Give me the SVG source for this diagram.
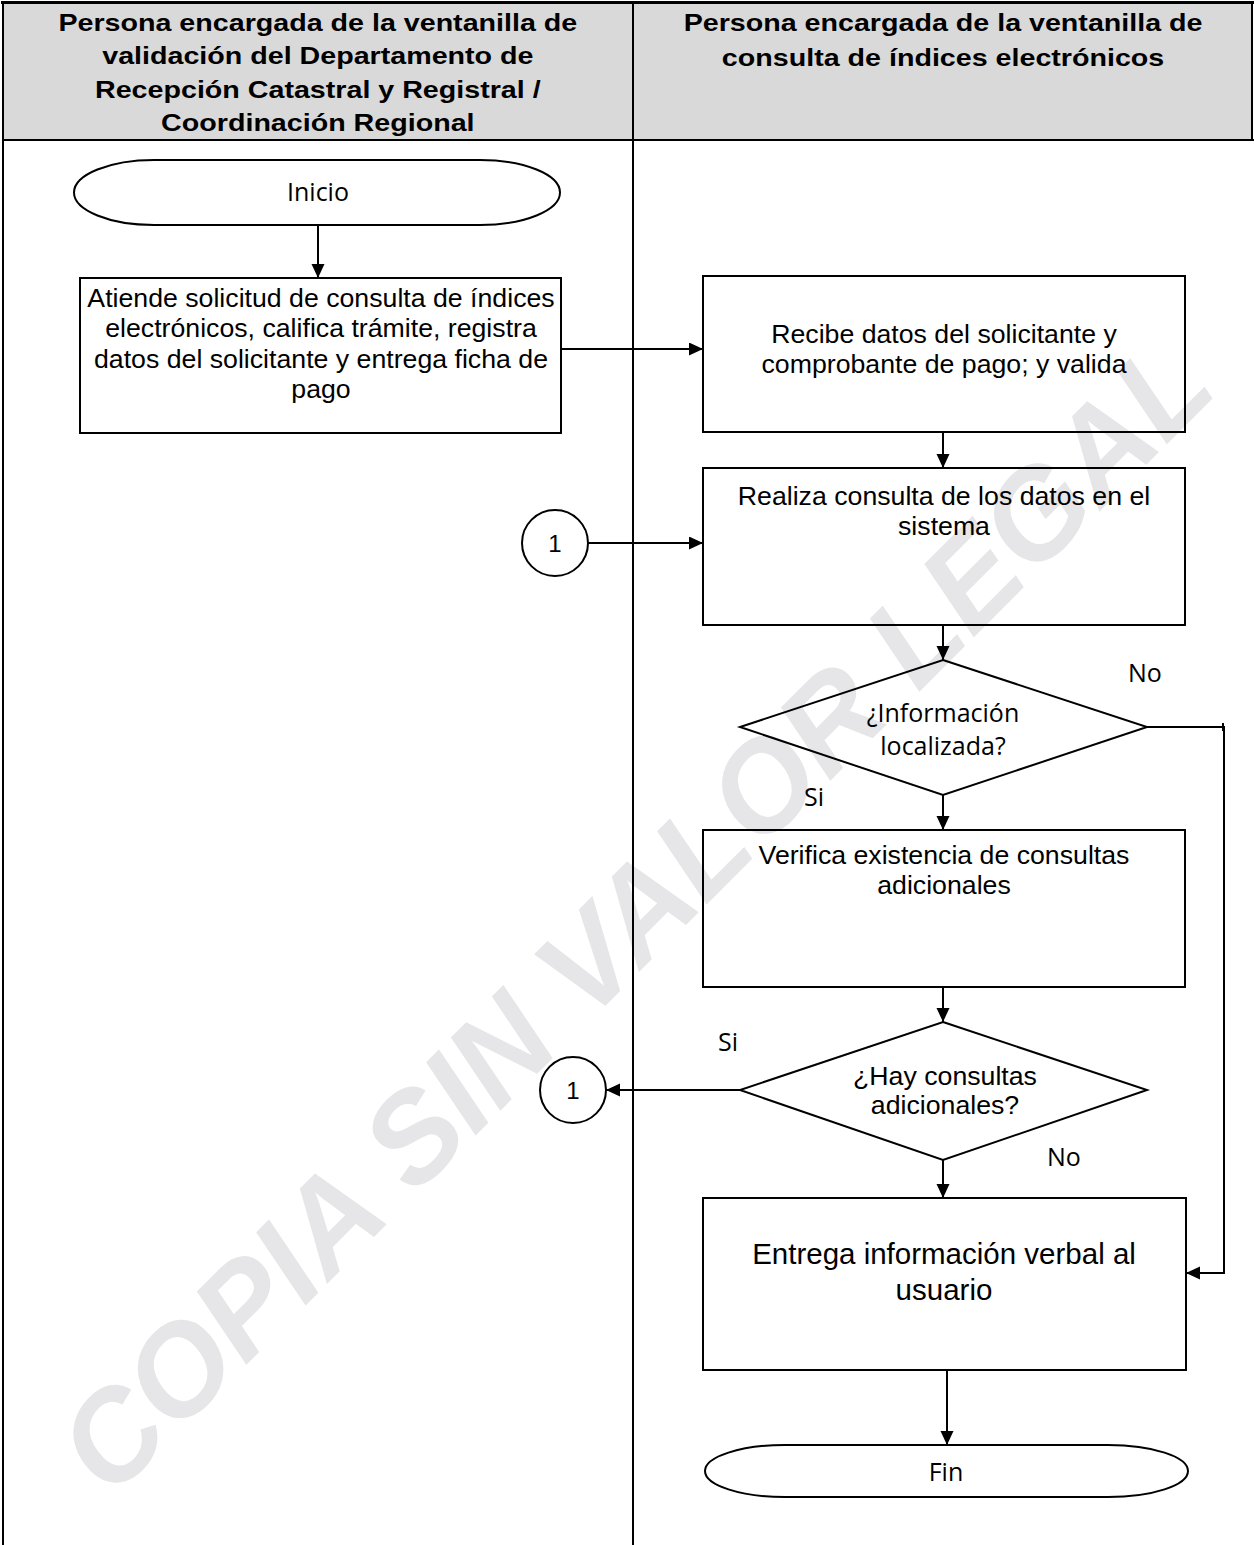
<svg xmlns="http://www.w3.org/2000/svg" width="1254" height="1545" viewBox="0 0 1254 1545">
  <style>
    .lane { fill: none; stroke: #000; stroke-width: 2; }
    .shape { fill: none; stroke: #000; stroke-width: 2; }
    .conn { fill: none; stroke: #000; stroke-width: 2; }
    .hdr { font-family: "Liberation Sans", Arial, sans-serif; font-weight: bold; font-size: 24.7px; text-anchor: middle; fill: #000; }
    .txt { font-family: "Liberation Sans", Arial, sans-serif; font-size: 26.7px; text-anchor: middle; fill: #000; }
    .big { font-size: 29.5px; }
    .cal { font-family: "Open Sans", "Noto Sans", sans-serif; font-size: 25px; text-anchor: middle; fill: #000; }
    .lbl { font-family: "Open Sans", "Noto Sans", sans-serif; font-size: 25px; fill: #000; }
    .wm { font-family: "Liberation Sans", Arial, sans-serif; font-weight: bold; font-style: italic; font-size: 126px; fill: #e6e6e8; }
  </style>
  <defs>
    <marker id="arrow" markerUnits="userSpaceOnUse" markerWidth="15" markerHeight="14" refX="14" refY="6.5" orient="auto">
      <path d="M0,0 L14,6.5 L0,13 Z" fill="#000"/>
    </marker>
  </defs>

  <rect width="1254" height="1545" fill="#fff"/>

  <!-- diagonal watermark behind everything -->
  <g id="watermark" transform="translate(111 1500) rotate(-45)">
    <text class="wm" x="0" y="0">COPIA SIN VALOR LEGAL</text>
  </g>

  <!-- swimlane frame and headers -->
  <g id="lanes">
    <rect x="2" y="2" width="1250" height="138" fill="#d9d9d9" stroke="none"/>
    <line class="lane" x1="1" y1="2.5" x2="1254" y2="2.5" style="stroke-width:3"/>
    <line class="lane" x1="2" y1="140" x2="1254" y2="140"/>
    <line class="lane" x1="3" y1="2" x2="3" y2="1545"/>
    <line class="lane" x1="633" y1="2" x2="633" y2="1545"/>
    <line class="lane" x1="1252" y1="2" x2="1252" y2="140"/>
    <g transform="scale(1.16 1)">
      <text class="hdr" x="274" y="31">Persona encargada de la ventanilla de</text>
      <text class="hdr" x="274" y="64.5">validación del Departamento de</text>
      <text class="hdr" x="274" y="98">Recepción Catastral y Registral /</text>
      <text class="hdr" x="274" y="131.5">Coordinación Regional</text>
      <text class="hdr" x="813" y="31">Persona encargada de la ventanilla de</text>
      <text class="hdr" x="813" y="66">consulta de índices electrónicos</text>
    </g>
  </g>

  <!-- connectors -->
  <g id="connectors">
    <line class="conn" x1="318" y1="225" x2="318" y2="278" marker-end="url(#arrow)"/>
    <line class="conn" x1="562" y1="349" x2="703" y2="349" marker-end="url(#arrow)"/>
    <line class="conn" x1="943" y1="432" x2="943" y2="468" marker-end="url(#arrow)"/>
    <line class="conn" x1="588" y1="543" x2="703" y2="543" marker-end="url(#arrow)"/>
    <line class="conn" x1="943" y1="625" x2="943" y2="660" marker-end="url(#arrow)"/>
    <line class="conn" x1="943" y1="795" x2="943" y2="830" marker-end="url(#arrow)"/>
    <polyline class="conn" points="1147,727 1224,727 1224,1273 1186,1273" marker-end="url(#arrow)"/>
    <line class="conn" x1="1223" y1="723" x2="1223" y2="731"/>
    <line class="conn" x1="943" y1="987" x2="943" y2="1022" marker-end="url(#arrow)"/>
    <line class="conn" x1="740" y1="1090" x2="606" y2="1090" marker-end="url(#arrow)"/>
    <line class="conn" x1="943" y1="1160" x2="943" y2="1198" marker-end="url(#arrow)"/>
    <line class="conn" x1="947" y1="1370" x2="947" y2="1445" marker-end="url(#arrow)"/>
    <text class="lbl" x="1128" y="682">No</text>
    <text class="lbl" x="804" y="806">Si</text>
    <text class="lbl" x="718" y="1051">Si</text>
    <text class="lbl" x="1047" y="1166">No</text>
  </g>

  <g id="inicio">
    <rect class="shape" x="74" y="160" width="486" height="65" rx="80" ry="32.5"/>
    <text class="cal" x="318" y="201">Inicio</text>
  </g>

  <g id="atiende">
    <rect class="shape" x="80" y="278" width="481" height="155"/>
    <text class="txt" x="321" y="307">Atiende solicitud de consulta de índices</text>
    <text class="txt" x="321" y="337">electrónicos, califica trámite, registra</text>
    <text class="txt" x="321" y="368">datos del solicitante y entrega ficha de</text>
    <text class="txt" x="321" y="398">pago</text>
  </g>

  <g id="recibe">
    <rect class="shape" x="703" y="276" width="482" height="156"/>
    <text class="txt" x="944" y="343">Recibe datos del solicitante y</text>
    <text class="txt" x="944" y="373">comprobante de pago; y valida</text>
  </g>

  <g id="realiza">
    <rect class="shape" x="703" y="468" width="482" height="157"/>
    <text class="txt" x="944" y="505">Realiza consulta de los datos en el</text>
    <text class="txt" x="944" y="535">sistema</text>
  </g>

  <g id="conector-1a">
    <circle class="shape" cx="555" cy="543" r="33"/>
    <text class="txt" x="555" y="552" style="font-size:24px">1</text>
  </g>

  <g id="decision-localizada">
    <polygon class="shape" points="943,660 1147,727 943,795 740,727"/>
    <text class="cal" x="943" y="722">¿Información</text>
    <text class="cal" x="943" y="755">localizada?</text>
  </g>

  <g id="verifica">
    <rect class="shape" x="703" y="830" width="482" height="157"/>
    <text class="txt" x="944" y="864">Verifica existencia de consultas</text>
    <text class="txt" x="944" y="894">adicionales</text>
  </g>

  <g id="decision-adicionales">
    <polygon class="shape" points="943,1022 1147,1090 943,1160 740,1090"/>
    <text class="txt" x="945" y="1085">¿Hay consultas</text>
    <text class="txt" x="945" y="1114">adicionales?</text>
  </g>

  <g id="conector-1b">
    <circle class="shape" cx="573" cy="1090" r="33"/>
    <text class="txt" x="573" y="1099" style="font-size:24px">1</text>
  </g>

  <g id="entrega">
    <rect class="shape" x="703" y="1198" width="483" height="172"/>
    <text class="txt big" x="944" y="1264">Entrega información verbal al</text>
    <text class="txt big" x="944" y="1300">usuario</text>
  </g>

  <g id="fin">
    <rect class="shape" x="705" y="1445" width="483" height="52" rx="80" ry="26"/>
    <text class="cal" x="946" y="1481">Fin</text>
  </g>
</svg>
